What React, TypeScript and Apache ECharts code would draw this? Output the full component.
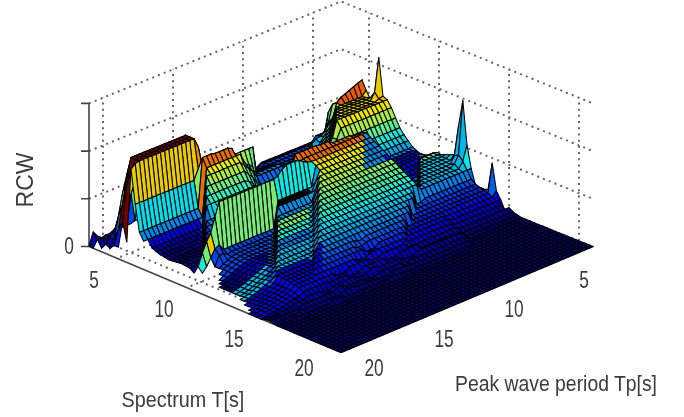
import React, { useEffect, useRef } from "react";
import * as echarts from "echarts";

// Surface grid: spectrum period T and peak wave period Tp, 3 s .. 21 s in 0.3 s steps.
const periodStart = 3;
const periodStep = 0.3;
const periodCount = 61;
const periodTicks = [5, 10, 15, 20];
const rcwTicks = [0, 1, 2, 3];
const rcwTickLabels = ["0", "", "", ""];
const spectrumTitle = "Spectrum T[s]";
const peakTitle = "Peak wave period Tp[s]";
const rcwTitle = "RCW";
const colourMax = 2.0;

// One list per spectrum period. Pairs: RCW x 100, then the last Tp index that holds it.
const rcwRows: number[][] = [
  [40,6,30,19,24,21,20,51,25,52,20,53,15,54,10,56,8,57,15,58,27,59,2,60],
  [45,6,35,20,25,50,20,54,12,55,10,56,8,57,12,58,15,59,0,60],
  [50,6,40,20,30,51,90,52,70,53,50,54,35,55,25,56,15,57,5,58,0,59],
  [100,6,40,38,120,52,170,53,140,54,105,55,60,56,15,57,0,58],
  [125,4,120,6,85,7,70,8,60,9,55,10,50,11,40,20,45,37,90,38,120,39,160,40,180,54,140,55,90,56,40,57,10,58],
  [153,0,150,1,146,2,142,3,138,4,135,5,126,6,98,7,87,8,75,9,70,10,68,11,62,12,42,20,50,37,95,38,125,39,165,40,180,54,160,55,130,56,60,57,10,58],
  [135,0,125,7,100,8,85,9,75,10,65,11,42,20,55,37,95,38,115,39,160,40,180,54,178,55,170,56,20,57],
  [119,0,127,8,100,9,85,10,75,11,65,12,42,20,55,27,120,41,100,56],
  [124,0,130,1,129,9,100,10,85,11,75,12,65,13,42,26,30,27,50,28,85,29,95,31,100,32,120,33,142,34,146,38,148,41,45,56],
  [215,0,145,1,130,10,100,11,85,12,75,13,65,14,40,27,50,29,80,30,95,31,110,32,130,41,30,56],
  [137,0,135,1,131,11,100,12,85,13,75,14,65,15,40,28,55,29,75,30,90,31,100,32,110,33,120,42,16,55],
  [133,12,100,13,85,14,75,15,65,16,38,29,50,30,70,31,85,32,95,33,105,43,12,55],
  [120,12,100,13,85,14,75,15,65,16,55,17,38,30,50,31,65,32,80,33,88,34,92,44,9,55],
  [102,12,95,13,85,14,75,15,65,16,55,17,45,18,36,31,45,32,60,33,80,45,8,55],
  [85,12,70,18,36,32,50,33,60,34,70,43,55,46,6,55],
  [74,12,70,18,36,33,60,34,75,44,50,47,7,55],
  [65,12,70,18,36,34,85,45,45,48,8,55],
  [56,0,55,12,70,18,40,35,95,46,40,49,9,55],
  [51,0,55,12,136,15,140,20,146,23,148,29,90,36,105,47,40,50,8,55],
  [48,0,55,12,139,28,135,30,95,37,115,48,40,51,7,55],
  [50,0,55,12,133,27,135,28,140,29,146,30,148,32,147,33,142,34,132,35,128,49,100,50,70,51,55,52,35,53,10,54,0,55],
  [53,0,55,12,128,27,87,36,32,49,45,50,40,51,25,52,10,53,0,54],
  [61,3,52,12,122,27,102,28,82,37,28,48,25,49,30,51,10,52],
  [65,0,67,4,50,12,117,28,93,29,69,38,27,47,26,48,24,49,20,50,16,51,10,52],
  [64,0,67,5,48,12,112,29,90,30,67,39,26,47,25,48,23,49,20,50,16,51,12,52,5,53],
  [68,0,67,6,46,12,106,30,85,31,64,40,25,47,24,48,22,49,19,50,15,51,11,52,6,53,0,54],
  [71,0,67,7,44,12,101,31,80,32,60,41,25,47,24,48,22,49,19,50,15,51,11,52,6,53,3,54,0,55],
  [75,0,66,8,42,12,95,32,76,33,57,42,26,47,24,48,22,49,19,50,15,51,11,52,7,53,4,54,1,55,0,56],
  [140,0,80,1,65,9,42,12,90,33,72,34,54,43,27,47,25,48,22,49,19,50,15,51,11,52,7,53,4,54,1,55,0,56],
  [196,0,85,1,70,2,64,10,42,12,85,34,67,35,50,44,28,47,26,48,22,49,19,50,15,51,11,52,7,53,4,54,1,55,0,56],
  [106,0,75,1,63,11,42,12,79,35,63,36,47,45,29,48,24,49,20,50,16,51,12,52,8,53,5,54,2,55,0,56],
  [60,12,74,36,59,37,44,46,30,48,25,49,21,50,17,51,13,52,9,53,5,54,2,55,0,56],
  [30,0,45,12,40,14,68,37,54,38,40,47,30,48,25,49,21,50,17,51,13,52,9,53,5,54,2,55,0,56],
  [24,0,38,12,38,15,63,38,50,39,37,48,28,49,24,50,20,51,16,52,12,53,8,54,4,55,2,56,0,57],
  [28,0,35,12,35,17,58,39,47,40,36,49,24,50,20,51,16,52,12,53,8,54,5,55,2,56,0,57],
  [31,0,32,12,32,18,52,41,33,50,20,51,16,52,12,53,8,54,5,55,3,56,1,57,0,58],
  [90,0,30,20,47,30,42,32,47,42,31,50,20,51,16,52,12,53,9,54,6,55,4,56,2,57,0,58],
  [35,0,25,12,28,21,41,31,36,33,41,43,30,50,20,51,16,52,13,53,10,54,7,55,5,56,3,57,1,58,0,59],
  [20,12,25,22,36,29,28,32,36,44,29,50,20,51,16,52,13,53,10,54,8,55,6,56,4,57,2,58,0,60],
  [2,0,15,12,20,23,30,32,24,35,30,45,27,50,20,51,16,52,13,53,10,54,8,55,6,56,4,57,3,58,1,59,0,60],
  [10,12,15,24,25,30,20,33,25,38,18,41,25,50,18,51,15,52,12,53,10,54,8,55,6,56,4,57,3,58,1,59,0,60],
  [5,12,10,22,20,27,14,30,20,36,12,39,18,44,20,50,14,52,11,53,9,54,7,55,5,56,4,57,2,58,1,59,0,60],
  [2,12,10,13,14,24,8,27,14,33,18,35,10,38,14,44,8,46,14,50,10,53,6,56,2,60],
  [0,12,5,13,9,26,3,28,10,34,5,37,9,42,14,44,9,52,3,60],
  [0,13,5,28,8,32,3,35,6,40,10,43,5,54,1,60],
  [0,14,2,30,5,33,2,44,6,47,2,56,0,60],
  [0,60],[0,60],[0,60],[0,60],[0,60],[0,60],[0,60],[0,60],
  [0,60],[0,60],[0,60],[0,60],[0,60],[0,60],[0,60],
];

// Colour-map positions for bands of the surface: first row, last row, lowest and highest row-minus-column, position.
const bandColours: number[][] = [
  [21,34,-7,-6,0.3],
  [21,34,-17,-16,0.22],
  [4,5,-52,-34,1],
  [6,6,-50,-35,0.66],
  [8,8,-48,-34,0.27],
  [8,8,-33,-25,0.76],
  [5,5,0,5,0.78],
  [8,9,7,10,0.66],
  [18,19,-12,5,0.76],
  [20,20,-33,-33,0.4],
  [20,20,-32,-32,0.5],
  [20,20,-31,-31,0.66],
  [20,20,-30,-16,0.5],
  [20,20,-16,-7,0.38],
  [21,21,-15,-7,-1],
  [22,23,-15,-7,0.28],
  [24,25,-15,-7,0.5],
  [26,27,-15,-7,0.4],
  [28,29,-15,-7,0.26],
  [21,25,-35,-16,0.2],
  [30,33,-25,-5,0.32],
  [34,40,-30,-5,0.13],
  [18,24,11,18,0.13],
  [18,24,6,10,0.28],
  [23,23,19,26,0.5],
  [27,29,26,31,0.32],
];

function expandRow(row: number[]): number[] {
  const out: number[] = [];
  for (let i = 0; i < row.length; i += 2) {
    while (out.length <= row[i + 1]) out.push(row[i] / 100);
  }
  return out;
}
const rcwGrid = rcwRows.map(expandRow);

function project(a: number, b: number, z: number): number[] {
  return [341 + 4.2 * (a - b), 144.5 + 1.7 * (a + b) + (4 * a * b) / 3600 - 47.7 * z];
}
const indexOf = (period: number) => (period - periodStart) / periodStep;
const last = periodCount - 1;

function jet(c: number): string {
  if (c < 0) return "#000000";
  const f = (v: number) => Math.round(235 * Math.max(0, Math.min(1, 1.5 - Math.abs(4 * c - v))));
  return `rgb(${f(3)},${f(2)},${f(1)})`;
}

function cellColour(a: number, b: number, mean: number): string {
  const d = a - b;
  for (const [a0, a1, d0, d1, c] of bandColours) {
    if (a >= a0 && a <= a1 && d >= d0 && d <= d1) return jet(c);
  }
  return jet(Math.min(1, mean / colourMax));
}

function lineSeries(points: number[][], color: string, width: number, type: any) {
  return {
    type: "line",
    data: points,
    symbol: "none",
    silent: true,
    clip: false,
    animation: false,
    lineStyle: { color, width, type },
    z: 1,
  };
}

export default function App() {
  const ref = useRef<HTMLDivElement>(null);
  useEffect(() => {
    document.body.style.margin = "0";
    const chart = echarts.init(ref.current!, null, { renderer: "svg" });

    const cells: number[][] = [];
    for (let a = 0; a < last; a++) {
      for (let b = 0; b < last; b++) {
        const r0 = rcwGrid[a];
        const r1 = rcwGrid[a + 1];
        if (b + 1 < r0.length && b + 1 < r1.length) cells.push([a, b]);
      }
    }

    const dots: any = [2, 4.2];
    const grey = "#666666";
    const walls: any[] = [];
    for (const t of periodTicks) {
      const i = indexOf(t);
      walls.push(lineSeries([project(i, 0, 0), project(i, 0, 3)], grey, 2, dots));
      walls.push(lineSeries([project(0, i, 0), project(0, i, 3)], grey, 2, dots));
      walls.push(lineSeries([project(i, 0, 0), project(i, last, 0)], grey, 2, dots));
      walls.push(lineSeries([project(0, i, 0), project(last, i, 0)], grey, 2, dots));
    }
    for (const z of rcwTicks) {
      if (z === 0) continue;
      walls.push(lineSeries([project(0, last, z), project(0, 0, z), project(last, 0, z)], grey, 2, dots));
    }
    const axisInk = "#444444";
    const axes: any[] = [
      lineSeries([project(0, last, 0), project(0, last, 3)], axisInk, 1.6, "solid"),
      lineSeries([project(0, last, 0), project(last, last, 0)], axisInk, 1.6, "solid"),
      lineSeries([project(last, last, 0), project(last, 0, 0)], axisInk, 1.6, "solid"),
    ];
    for (const z of rcwTicks) {
      const p = project(0, last, z);
      axes.push(lineSeries([[p[0] - 8, p[1]], p], axisInk, 1.6, "solid"));
    }

    const ink = "#3c3c3c";
    const label = (text: string, x: number, y: number, size: number, scaleX: number, rotation = 0) => ({
      type: "text",
      x,
      y,
      scaleX,
      rotation,
      silent: true,
      style: {
        text,
        fill: ink,
        font: `${size}px "Liberation Sans"`,
        align: "center",
        verticalAlign: "middle",
      },
    });
    const graphics: any[] = [];
    for (const t of periodTicks) {
      const i = indexOf(t);
      const pT = project(i, last, 0);
      graphics.push(label(String(t), pT[0] - 23, pT[1] + 21, 24, 0.72));
      const pP = project(last, i, 0);
      graphics.push(label(String(t), pP[0] + 19, pP[1] + 21, 24, 0.72));
    }
    rcwTicks.forEach((z, k) => {
      if (!rcwTickLabels[k]) return;
      const p = project(0, last, z);
      graphics.push(label(rcwTickLabels[k], p[0] - 20, p[1] - 1, 24, 0.72));
    });
    graphics.push(label(spectrumTitle, 183, 399, 22, 0.9));
    graphics.push(label(peakTitle, 556, 383, 22, 0.88));
    graphics.push(label(rcwTitle, 25, 180, 23, 1, Math.PI / 2));

    chart.setOption({
      animation: false,
      backgroundColor: "#ffffff",
      grid: { left: 0, right: 0, top: 0, bottom: 0 },
      xAxis: { type: "value", min: 0, max: 684, show: false },
      yAxis: { type: "value", min: 0, max: 417, inverse: true, show: false },
      graphic: graphics,
      series: [
        ...walls,
        ...axes,
        {
          type: "custom",
          coordinateSystem: "cartesian2d",
          data: cells,
          clip: false,
          silent: true,
          animation: false,
          progressive: 0,
          z: 2,
          encode: { x: 0, y: 1 },
          renderItem: (_p: any, api: any) => {
            const a = api.value(0);
            const b = api.value(1);
            const corners = [
              [a, b],
              [a + 1, b],
              [a + 1, b + 1],
              [a, b + 1],
            ];
            let sum = 0;
            const points = corners.map(([i, j]) => {
              const z = rcwGrid[i][j];
              sum += z;
              return api.coord(project(i, j, z));
            });
            return {
              type: "polygon",
              shape: { points },
              style: { fill: cellColour(a, b, sum / 4), stroke: "#000000", lineWidth: 1.05 },
            };
          },
        },
      ],
    });
    return () => chart.dispose();
  }, []);
  return <div ref={ref} style={{ width: 684, height: 417, filter: "blur(0.55px)" }} />;
}
